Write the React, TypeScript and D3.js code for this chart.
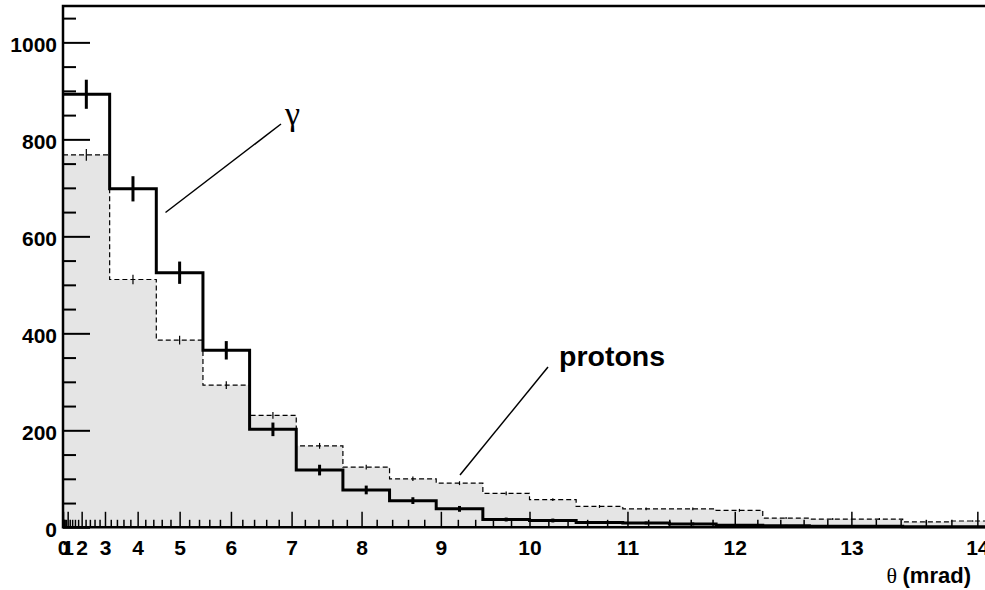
import React, { useEffect, useRef } from "react";
import * as d3 from "d3";

// bins are uniform in theta^2 (mrad^2), width 10
const binEdgesSq = [0, 10, 20, 30, 40, 50, 60, 70, 80, 90, 100, 110, 120, 130, 140, 150, 160, 170, 180, 190, 200];

const gammaCounts = [893, 698, 525, 365, 202, 118, 77, 55, 38, 16, 14, 10, 9, 7, 4, 3, 2, 2, 1, 1];
const gammaErrors = [30, 26, 23, 19, 14, 11, 9, 7, 6, 4, 4, 3, 3, 3, 2, 2, 1, 1, 1, 1];

const protonCounts = [768, 511, 386, 293, 231, 168, 124, 100, 91, 70, 57, 43, 38, 38, 35, 19, 17, 17, 11, 13];
const protonErrors = [12, 10, 9, 8, 7, 6, 5, 4.5, 4, 4, 3, 3, 3, 3, 3, 2, 2, 2, 1.5, 1.6];

const yMajorTicks = [0, 200, 400, 600, 800, 1000];
const yMinorTicks = [50, 100, 150, 250, 300, 350, 450, 500, 550, 650, 700, 750, 850, 900, 950, 1050];
const xMajorTicks = [0, 1, 2, 3, 4, 5, 6, 7, 8, 9, 10, 11, 12, 13, 14];

const W = 985;
const H = 590;
const margin = { left: 63, top: 6, right: 996, bottom: 527.3 };
const font = "'Liberation Sans', Arial, Helvetica, sans-serif";
const serif = "'Liberation Serif', 'Times New Roman', serif";

const App: React.FC = () => {
  const svgRef = useRef<SVGSVGElement | null>(null);

  useEffect(() => {
    if (!svgRef.current) return;
    const svg = d3.select(svgRef.current);
    svg.selectAll("*").remove();

    const thetaMax = Math.sqrt(binEdgesSq[binEdgesSq.length - 1]);
    // theta axis drawn linear in theta^2
    const x = d3.scalePow().exponent(2).domain([0, thetaMax]).range([margin.left, margin.right]);
    const xSq = d3.scaleLinear().domain([0, binEdgesSq[binEdgesSq.length - 1]]).range([margin.left, margin.right]);
    const y = d3.scaleLinear().domain([0, 1075]).range([margin.bottom, margin.top]);

    const toSteps = (vals: number[]) =>
      binEdgesSq.map((e, i) => ({ e, v: vals[Math.min(i, vals.length - 1)] }));

    const area = d3
      .area<{ e: number; v: number }>()
      .curve(d3.curveStepAfter)
      .x((d) => xSq(d.e))
      .y0(y(0))
      .y1((d) => y(d.v));

    const line = d3
      .line<{ e: number; v: number }>()
      .curve(d3.curveStepAfter)
      .x((d) => xSq(d.e))
      .y((d) => y(d.v));

    // proton fill
    svg.append("path").datum(toSteps(protonCounts)).attr("d", area).attr("fill", "#e5e5e5");

    // proton dashed histogram
    svg
      .append("path")
      .datum(toSteps(protonCounts))
      .attr("d", line)
      .attr("fill", "none")
      .attr("stroke", "#000")
      .attr("stroke-width", 1.2)
      .attr("stroke-dasharray", "5,3");

    const centers = binEdgesSq.slice(0, -1).map((e, i) => (e + binEdgesSq[i + 1]) / 2);

    svg
      .append("g")
      .selectAll("line")
      .data(protonCounts)
      .join("line")
      .attr("x1", (_, i) => xSq(centers[i]))
      .attr("x2", (_, i) => xSq(centers[i]))
      .attr("y1", (d, i) => y(d - protonErrors[i]))
      .attr("y2", (d, i) => y(d + protonErrors[i]))
      .attr("stroke", "#000")
      .attr("stroke-width", 1.2);

    // gamma solid histogram
    svg
      .append("path")
      .datum(toSteps(gammaCounts))
      .attr("d", line)
      .attr("fill", "none")
      .attr("stroke", "#000")
      .attr("stroke-width", 3);

    svg
      .append("g")
      .selectAll("line")
      .data(gammaCounts)
      .join("line")
      .attr("x1", (_, i) => xSq(centers[i]))
      .attr("x2", (_, i) => xSq(centers[i]))
      .attr("y1", (d, i) => y(Math.max(0, d - gammaErrors[i])))
      .attr("y2", (d, i) => y(d + gammaErrors[i]))
      .attr("stroke", "#000")
      .attr("stroke-width", 3);

    // y axis
    const yAxisMajor = svg
      .append("g")
      .attr("transform", `translate(${margin.left},0)`)
      .call(
        d3
          .axisLeft(y)
          .tickValues(yMajorTicks)
          .tickSize(-27)
          .tickPadding(6)
          .tickFormat((d) => String(d))
      );
    yAxisMajor.select(".domain").remove();
    yAxisMajor.selectAll("line").attr("stroke-width", 2);
    yAxisMajor
      .selectAll("text")
      .attr("font-family", font)
      .attr("font-weight", "bold")
      .attr("font-size", 21)
      .attr("dy", "0.42em")
      .attr("fill", "#000");

    const yAxisMinor = svg
      .append("g")
      .attr("transform", `translate(${margin.left},0)`)
      .call(d3.axisLeft(y).tickValues(yMinorTicks).tickSize(-13).tickFormat(() => ""));
    yAxisMinor.select(".domain").remove();
    yAxisMinor.selectAll("line").attr("stroke-width", 2);

    // x axis
    const xMinorTicks = d3.range(0, thetaMax, 0.2).filter((t) => Math.abs(t - Math.round(t)) > 0.01);
    const xAxisMinor = svg
      .append("g")
      .attr("transform", `translate(0,${margin.bottom})`)
      .call(d3.axisBottom(x).tickValues(xMinorTicks).tickSize(-7.5).tickFormat(() => ""));
    xAxisMinor.select(".domain").remove();
    xAxisMinor.selectAll("line").attr("stroke-width", 1.5);

    const xAxisMajor = svg
      .append("g")
      .attr("transform", `translate(0,${margin.bottom})`)
      .call(
        d3
          .axisBottom(x)
          .tickValues(xMajorTicks)
          .tickSize(-15.5)
          .tickPadding(13)
          .tickFormat((d) => String(d))
      );
    xAxisMajor.select(".domain").remove();
    xAxisMajor.selectAll("line").attr("stroke-width", 1.5);
    xAxisMajor
      .selectAll("text")
      .attr("font-family", font)
      .attr("font-weight", "bold")
      .attr("font-size", 21)
      .attr("fill", "#000");

    // frame: left, bottom, top
    svg
      .append("path")
      .attr("d", `M${W},${margin.top}H${margin.left}V${margin.bottom}H${W}`)
      .attr("fill", "none")
      .attr("stroke", "#000")
      .attr("stroke-width", 2.5);

    // annotations
    svg
      .append("line")
      .attr("x1", 165.5)
      .attr("y1", 212.5)
      .attr("x2", 281)
      .attr("y2", 124)
      .attr("stroke", "#000")
      .attr("stroke-width", 1.5);
    svg
      .append("text")
      .attr("x", 285)
      .attr("y", 125)
      .attr("font-family", serif)
      .attr("font-size", 34)
      .text("γ");

    svg
      .append("line")
      .attr("x1", 460)
      .attr("y1", 475)
      .attr("x2", 548)
      .attr("y2", 367)
      .attr("stroke", "#000")
      .attr("stroke-width", 1.5);
    svg
      .append("text")
      .attr("x", 559)
      .attr("y", 366)
      .attr("font-family", font)
      .attr("font-weight", "bold")
      .attr("font-size", 28.5)
      .text("protons");

    const xTitle = svg
      .append("text")
      .attr("x", 971)
      .attr("y", 583)
      .attr("text-anchor", "end")
      .attr("font-size", 22);
    xTitle.append("tspan").attr("font-family", serif).text("θ ");
    xTitle.append("tspan").attr("font-family", font).attr("font-weight", "bold").text("(mrad)");
  }, []);

  return (
    <div style={{ position: "absolute", left: 0, top: 0, width: W, height: H, background: "#fff" }}>
      <svg ref={svgRef} width={W} height={H} style={{ display: "block" }} />
    </div>
  );
};

export default App;
